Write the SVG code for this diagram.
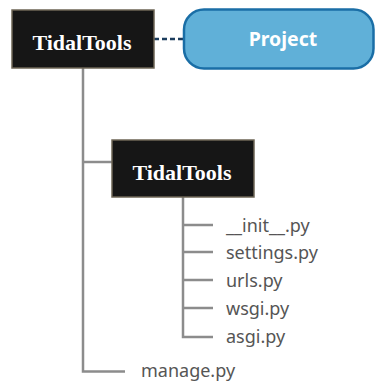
<svg xmlns="http://www.w3.org/2000/svg" width="375" height="381" viewBox="0 0 375 381">
<style>
.box{fill:#161616;stroke:#6e6656;stroke-width:1.5}
.boxt{font-family:"Liberation Serif","DejaVu Serif",serif;font-weight:bold;font-size:22px;fill:#ffffff;text-anchor:middle}
.proj{fill:#60b0d8;stroke:#1a6ea6;stroke-width:2.5}
.projt{font-family:"Noto Sans","Open Sans",sans-serif;font-weight:bold;font-size:19.5px;fill:#ffffff;text-anchor:middle}
.file{font-family:"Noto Sans","Open Sans",sans-serif;font-size:18px;fill:#555555}
.ln{stroke:#8c8c8c;stroke-width:2.5;fill:none}
.dash{stroke:#1c3d5e;stroke-width:2.5;stroke-dasharray:5 3;fill:none}
</style>
<rect width="375" height="381" fill="#ffffff"/>
<g id="connectors">
<path class="ln" d="M83 68 V371.5 H125"/>
<path class="ln" d="M83 162 H112"/>
<path class="ln" d="M183 197 V337 H213"/>
<path class="ln" d="M183 225 H213 M183 252 H213 M183 280 H213 M183 308 H213"/>
<path class="dash" d="M154 39 H184"/>
</g>
<g id="root">
<rect class="box" x="12" y="10" width="142" height="58"/>
<text class="boxt" x="82" y="50">TidalTools</text>
</g>
<g id="project">
<rect class="proj" x="184" y="9.5" width="189.5" height="59" rx="20" ry="20"/>
<text class="projt" x="283" y="46">Project</text>
</g>
<g id="pkg">
<rect class="box" x="112" y="140" width="142" height="57"/>
<text class="boxt" x="182" y="180">TidalTools</text>
</g>
<g id="init"><text class="file" x="226" y="232">__init__.py</text></g>
<g id="settings"><text class="file" x="226" y="259">settings.py</text></g>
<g id="urls"><text class="file" x="226" y="287">urls.py</text></g>
<g id="wsgi"><text class="file" x="226" y="315">wsgi.py</text></g>
<g id="asgi"><text class="file" x="226" y="343">asgi.py</text></g>
<g id="manage"><text class="file" x="141" y="377">manage.py</text></g>
</svg>
